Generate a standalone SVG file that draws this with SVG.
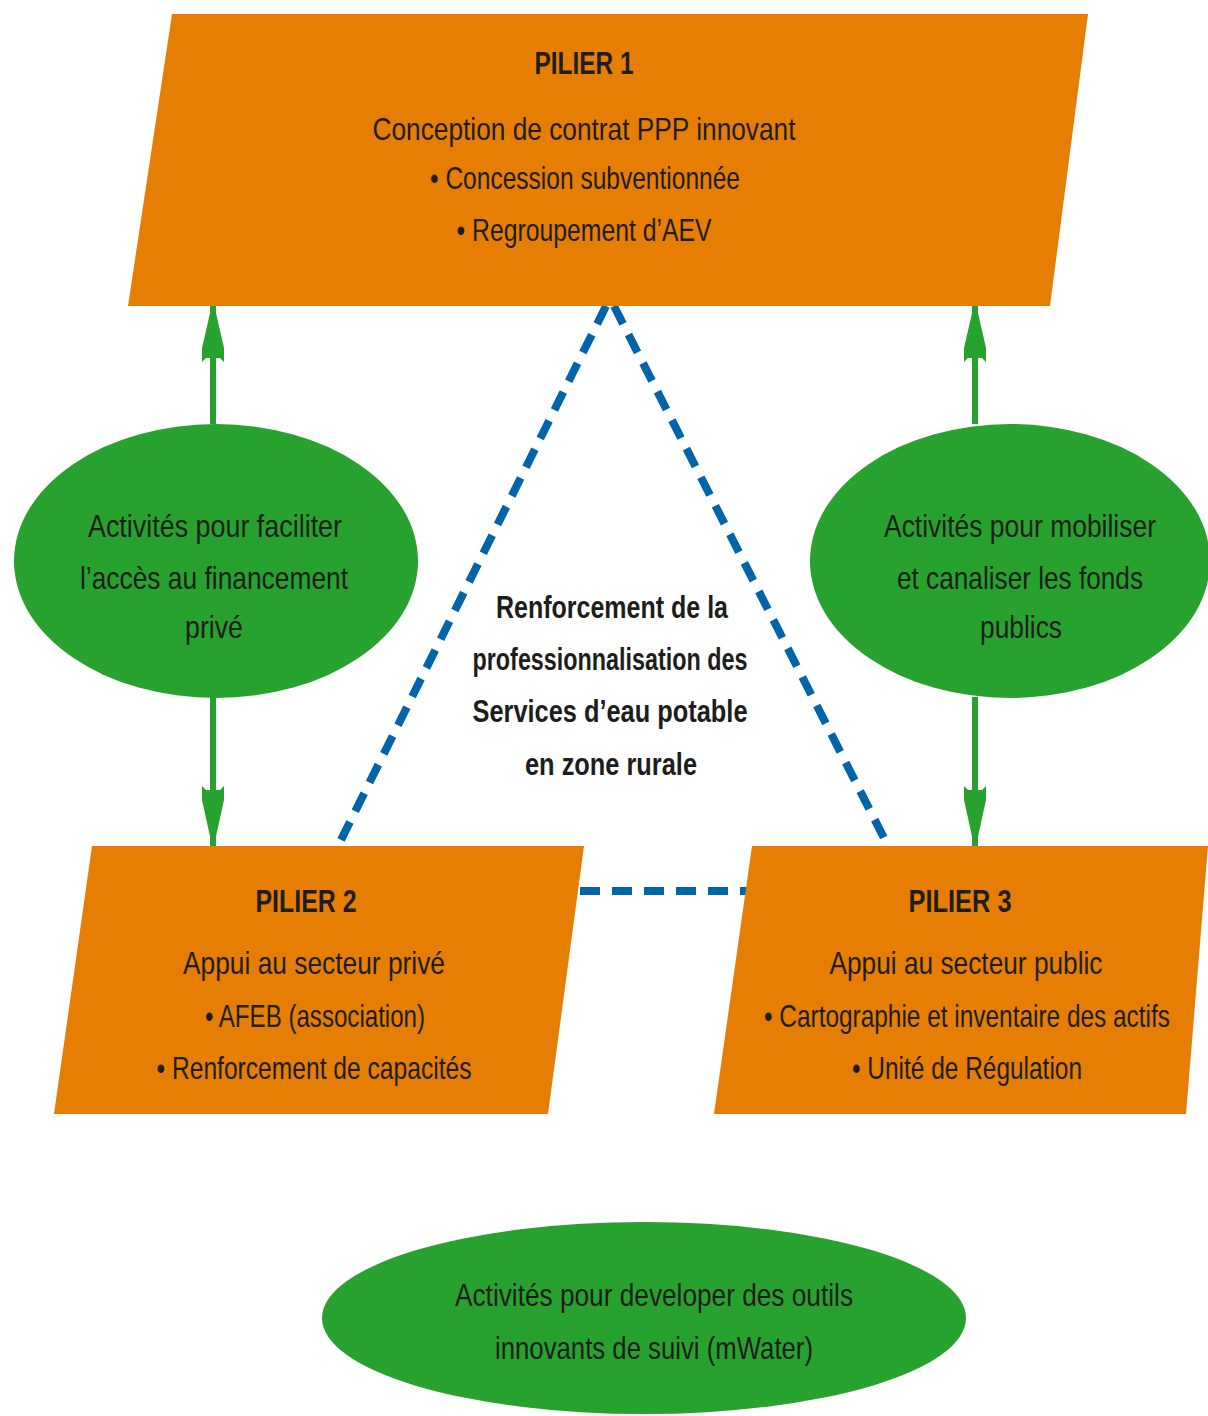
<svg xmlns="http://www.w3.org/2000/svg" width="1208" height="1416" viewBox="0 0 1208 1416">
<defs>
<style>
.pil{fill:#E67E04}
.ell{fill:#27A22E}
.t{font-family:"Liberation Sans",Arial,sans-serif;font-size:32px;fill:#1d1d1b;text-anchor:middle}
.b{font-weight:bold}
.arr{stroke:#27A22E;stroke-width:6;fill:none}
.dash{stroke:#0064AA;stroke-width:8;stroke-dasharray:20 12;fill:none}
</style>
<marker id="ah" viewBox="0 0 10 30" refX="5" refY="0" markerWidth="10" markerHeight="30" markerUnits="userSpaceOnUse" orient="auto-start-reverse">
<path d="M5,0 L11,18 L11,30 L8,26 L2,26 L-1,30 L-1,18 Z" fill="#27A22E"/>
</marker>
</defs>
<rect width="1208" height="1416" fill="#fff"/>
<g id="connectors">
<path class="dash" d="M606,306 L338,846"/>
<path class="dash" d="M614,306 L884,838"/>
<path class="dash" d="M580,891 L750,891"/>
<path d="M213,424 L213,306" stroke="#27A22E" stroke-width="6"/>
<path d="M213,300 L224,348 L224,362 L220,358 L206,358 L202,362 L202,348 Z" fill="#27A22E"/>
<path d="M213,697 L213,850" stroke="#27A22E" stroke-width="6"/>
<path d="M213,850 L224,800 L224,786 L220,790 L206,790 L202,786 L202,800 Z" fill="#27A22E"/>
<path d="M975,424 L975,306" stroke="#27A22E" stroke-width="6"/>
<path d="M975,300 L986,348 L986,362 L982,358 L968,358 L964,362 L964,348 Z" fill="#27A22E"/>
<path d="M975,697 L975,850" stroke="#27A22E" stroke-width="6"/>
<path d="M975,850 L986,800 L986,786 L982,790 L968,790 L964,786 L964,800 Z" fill="#27A22E"/>
</g>
<g id="pilier1">
<polygon class="pil" points="172,14 1088,14 1050,306 128,306"/>
<text class="t b" x="584" y="74" textLength="99" lengthAdjust="spacingAndGlyphs">PILIER 1</text>
<text class="t" x="584" y="140" textLength="423" lengthAdjust="spacingAndGlyphs">Conception de contrat PPP innovant</text>
<text class="t" x="585" y="189" textLength="310" lengthAdjust="spacingAndGlyphs">• Concession subventionnée</text>
<text class="t" x="584" y="241" textLength="255" lengthAdjust="spacingAndGlyphs">• Regroupement d’AEV</text>
</g>
<g id="ellipse-left">
<ellipse class="ell" cx="216" cy="561" rx="202" ry="137"/>
<text class="t" x="215" y="537" textLength="254" lengthAdjust="spacingAndGlyphs">Activités pour faciliter</text>
<text class="t" x="214" y="589" textLength="268" lengthAdjust="spacingAndGlyphs">l’accès au financement</text>
<text class="t" x="214" y="638" textLength="58" lengthAdjust="spacingAndGlyphs">privé</text>
</g>
<g id="ellipse-right">
<ellipse class="ell" cx="1010" cy="561" rx="200" ry="137"/>
<text class="t" x="1020" y="537" textLength="272" lengthAdjust="spacingAndGlyphs">Activités pour mobiliser</text>
<text class="t" x="1020" y="589" textLength="246" lengthAdjust="spacingAndGlyphs">et canaliser les fonds</text>
<text class="t" x="1021" y="638" textLength="82" lengthAdjust="spacingAndGlyphs">publics</text>
</g>
<g id="center-label">
<text class="t b" x="612" y="618" textLength="232" lengthAdjust="spacingAndGlyphs">Renforcement de la</text>
<text class="t b" x="610" y="670" textLength="275" lengthAdjust="spacingAndGlyphs">professionnalisation des</text>
<text class="t b" x="610" y="722" textLength="275" lengthAdjust="spacingAndGlyphs">Services d’eau potable</text>
<text class="t b" x="611" y="775" textLength="172" lengthAdjust="spacingAndGlyphs">en zone rurale</text>
</g>
<g id="pilier2">
<polygon class="pil" points="92,846 584,846 548,1114 54,1114"/>
<text class="t b" x="306" y="912" textLength="101" lengthAdjust="spacingAndGlyphs">PILIER 2</text>
<text class="t" x="314" y="974" textLength="262" lengthAdjust="spacingAndGlyphs">Appui au secteur privé</text>
<text class="t" x="315" y="1027" textLength="220" lengthAdjust="spacingAndGlyphs">• AFEB (association)</text>
<text class="t" x="314" y="1079" textLength="315" lengthAdjust="spacingAndGlyphs">• Renforcement de capacités</text>
</g>
<g id="pilier3">
<polygon class="pil" points="752,846 1208,846 1186,1114 714,1114"/>
<text class="t b" x="960" y="912" textLength="103" lengthAdjust="spacingAndGlyphs">PILIER 3</text>
<text class="t" x="966" y="974" textLength="273" lengthAdjust="spacingAndGlyphs">Appui au secteur public</text>
<text class="t" x="967" y="1027" textLength="406" lengthAdjust="spacingAndGlyphs">• Cartographie et inventaire des actifs</text>
<text class="t" x="967" y="1079" textLength="230" lengthAdjust="spacingAndGlyphs">• Unité de Régulation</text>
</g>
<g id="ellipse-bottom">
<ellipse class="ell" cx="644" cy="1318" rx="322" ry="96"/>
<text class="t" x="654" y="1306" textLength="398" lengthAdjust="spacingAndGlyphs">Activités pour developer des outils</text>
<text class="t" x="654" y="1359" textLength="318" lengthAdjust="spacingAndGlyphs">innovants de suivi (mWater)</text>
</g>
</svg>
